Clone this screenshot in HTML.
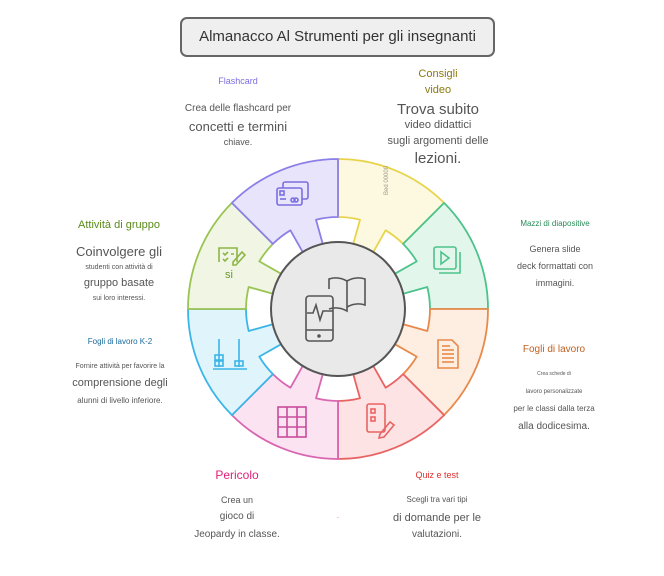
<!DOCTYPE html>
<html><head><meta charset="utf-8"><style>
body{margin:0;width:664px;height:576px;background:#fff;position:relative;overflow:hidden;font-family:"Liberation Sans",sans-serif;color:#555}
.t{position:absolute;text-align:center;white-space:nowrap;transform:translateX(-50%);line-height:1.2}
</style></head><body>
<div style="position:absolute;left:180px;top:17px;width:315px;height:40px;border:2px solid #666;border-radius:7px;background:#efefef;box-sizing:border-box;text-align:center;line-height:36px;font-size:15px;color:#333">Almanacco Al Strumenti per gli insegnanti</div>

<svg width="664" height="576" style="position:absolute;left:0;top:0">
<g id="segs"></g>
<circle cx="338" cy="309" r="67" fill="#e9e9e9" stroke="#555" stroke-width="2"/>
<g fill="none" stroke="#555" stroke-width="1.6">
<rect x="306" y="296" width="27" height="45" rx="3"/>
<line x1="306" y1="330" x2="333" y2="330"/>
<circle cx="319" cy="336" r="1" fill="#555"/>
<polyline points="307,313 313,313 316,305 320,320 323,311 333,311"/>
<path d="M329 289 v-10 q9,-3 18,2 v30 q-9,-5 -18,-2"/>
<path d="M347 281 q9,-5 18,-2 v26 q-9,-3 -18,2"/>
</g>
<g fill="none" stroke-width="1.6">
<g stroke="#7a6ee0"><rect x="283" y="182" width="25" height="17" rx="2"/><rect x="277" y="188" width="25" height="17" rx="2" fill="#e8e4fb"/><rect x="280" y="191" width="4" height="4"/><line x1="280" y1="199" x2="286" y2="199"/><circle cx="293" cy="200" r="2"/><circle cx="296" cy="200" r="2"/></g>
<text x="378" y="205" font-size="6" fill="#998" transform="rotate(-90 378 195)" stroke="none">Bed 00000</text>
<g stroke="#4cc38a"><rect x="434" y="247" width="22" height="22" rx="2"/><path d="M460 252 v21 h-21"/><path d="M441 252 l8 6 l-8 6z"/></g>
<g stroke="#e8894a"><path d="M438 340 h14 l6 6 v22 h-20z"/><line x1="442" y1="350" x2="454" y2="350"/><line x1="442" y1="354" x2="454" y2="354"/><line x1="442" y1="358" x2="454" y2="358"/><line x1="442" y1="362" x2="454" y2="362"/><line x1="442" y1="346" x2="450" y2="346"/></g>
<g stroke="#e86464"><rect x="367" y="404" width="18" height="28" rx="2"/><rect x="371" y="409" width="4" height="4"/><rect x="371" y="417" width="4" height="4"/><path d="M380 434 l10 -12 l4 3 l-10 12 l-5 1z"/></g>
<g stroke="#c84c9c"><rect x="278" y="407" width="28" height="30"/><line x1="287" y1="407" x2="287" y2="437"/><line x1="297" y1="407" x2="297" y2="437"/><line x1="278" y1="417" x2="306" y2="417"/><line x1="278" y1="427" x2="306" y2="427"/></g>
<g stroke="#3bb5e8"><line x1="219" y1="339" x2="219" y2="367"/><line x1="239" y1="339" x2="239" y2="367"/><line x1="213" y1="369" x2="247" y2="369"/><rect x="215" y="355" width="8" height="5"/><rect x="215" y="361" width="8" height="5"/><rect x="235" y="361" width="8" height="5"/></g>
<g stroke="#8db547"><path d="M237 262 v-14 h-18 v14"/><path d="M223 253 l2 2 l3 -3 M223 259 l2 2 l3 -3 M231 254 h3"/><path d="M233 262 l9 -10 l3 3 l-9 10 h-3z"/></g>
</g>
<text x="229" y="278" font-size="11" fill="#6a9a2a" text-anchor="middle">si</text>
<text x="338" y="520" font-size="8" fill="#e86464" text-anchor="middle">·</text>
</svg>

<div class="t" style="left:238px;top:76px;font-size:9px;color:#7a6ee0">Flashcard</div>
<div class="t" style="left:238px;top:103px;font-size:10px">Crea delle flashcard per</div>
<div class="t" style="left:238px;top:119px;font-size:13px">concetti e termini</div>
<div class="t" style="left:238px;top:137px;font-size:9px">chiave.</div>

<div class="t" style="left:438px;top:68px;font-size:11px;color:#8a7a10">Consigli</div>
<div class="t" style="left:438px;top:84px;font-size:11px;color:#8a7a10">video</div>
<div class="t" style="left:438px;top:101px;font-size:15px">Trova subito</div>
<div class="t" style="left:438px;top:119px;font-size:11px">video didattici</div>
<div class="t" style="left:438px;top:135px;font-size:11px">sugli argomenti delle</div>
<div class="t" style="left:438px;top:150px;font-size:15px">lezioni.</div>

<div class="t" style="left:555px;top:219px;font-size:8px;color:#2a8a5a">Mazzi di diapositive</div>
<div class="t" style="left:555px;top:244px;font-size:9px">Genera slide</div>
<div class="t" style="left:555px;top:261px;font-size:9px">deck formattati con</div>
<div class="t" style="left:555px;top:278px;font-size:9px">immagini.</div>

<div class="t" style="left:119px;top:219px;font-size:11px;color:#5a8a1a">Attività di gruppo</div>
<div class="t" style="left:119px;top:244px;font-size:13px">Coinvolgere gli</div>
<div class="t" style="left:119px;top:264px;font-size:7px">studenti con attività di</div>
<div class="t" style="left:119px;top:277px;font-size:11px">gruppo basate</div>
<div class="t" style="left:119px;top:295px;font-size:7px">sui loro interessi.</div>

<div class="t" style="left:120px;top:337px;font-size:8px;color:#1a6a9a">Fogli di lavoro K-2</div>
<div class="t" style="left:120px;top:363px;font-size:7px">Fornire attività per favorire la</div>
<div class="t" style="left:120px;top:377px;font-size:11px">comprensione degli</div>
<div class="t" style="left:120px;top:396px;font-size:8px">alunni di livello inferiore.</div>

<div class="t" style="left:554px;top:344px;font-size:10px;color:#c06020">Fogli di lavoro</div>
<div class="t" style="left:554px;top:371px;font-size:5px">Crea schede di</div>
<div class="t" style="left:554px;top:389px;font-size:6px">lavoro personalizzate</div>
<div class="t" style="left:554px;top:404px;font-size:8px">per le classi dalla terza</div>
<div class="t" style="left:554px;top:421px;font-size:10px">alla dodicesima.</div>

<div class="t" style="left:237px;top:468px;font-size:12px;color:#e0207a">Pericolo</div>
<div class="t" style="left:237px;top:495px;font-size:9px">Crea un</div>
<div class="t" style="left:237px;top:511px;font-size:10px">gioco di</div>
<div class="t" style="left:237px;top:529px;font-size:10px">Jeopardy in classe.</div>

<div class="t" style="left:437px;top:470px;font-size:9px;color:#e03030">Quiz e test</div>
<div class="t" style="left:437px;top:495px;font-size:8px">Scegli tra vari tipi</div>
<div class="t" style="left:437px;top:512px;font-size:11px">di domande per le</div>
<div class="t" style="left:437px;top:529px;font-size:10px">valutazioni.</div>

<script>
var cx=338,cy=309,R=150,r2=92,r1=66,wo=22,wi=15;
var segs=[["#e8d44a","#fdf9e1"],["#4cc38a","#e3f6ec"],["#e8894a","#fdeee1"],["#e86464","#fde3e3"],["#d966b0","#fbe3f2"],["#3bb5e8","#e0f4fc"],["#9ac452","#f0f6e3"],["#8b7fe8","#e8e4fb"]];
function P(x,y){return (cx+x).toFixed(1)+","+(cy-y).toFixed(1)}
function p(r,a){return P(r*Math.cos(a),r*Math.sin(a))}
// point offset from boundary angle a by w (sign s: +1 toward increasing angle) at radius r
function q(r,a,w,s){var t=Math.sqrt(r*r-w*w);var ux=Math.cos(a),uy=Math.sin(a),nx=-uy*s,ny=ux*s;return P(ux*t+nx*w,uy*t+ny*w)}
var s="";
for(var i=0;i<8;i++){var a0=Math.PI/2-i*Math.PI/4,a1=a0-Math.PI/4;
var dd="M"+p(r2,a0)+" L"+p(R,a0)+" A"+R+","+R+" 0 0 1 "+p(R,a1)+" L"+p(r2,a1)
+" A"+r2+","+r2+" 0 0 0 "+q(r2,a1,wo,1)+" L"+q(r1,a1,wi,1)
+" A"+r1+","+r1+" 0 0 0 "+q(r1,a0,wi,-1)+" L"+q(r2,a0,wo,-1)
+" A"+r2+","+r2+" 0 0 0 "+p(r2,a0)+"Z";
s+='<path d="'+dd+'" fill="'+segs[i][1]+'" stroke="'+segs[i][0]+'" stroke-width="1.8" stroke-linejoin="round"/>';}
document.getElementById("segs").innerHTML=s;
</script>
</body></html>
